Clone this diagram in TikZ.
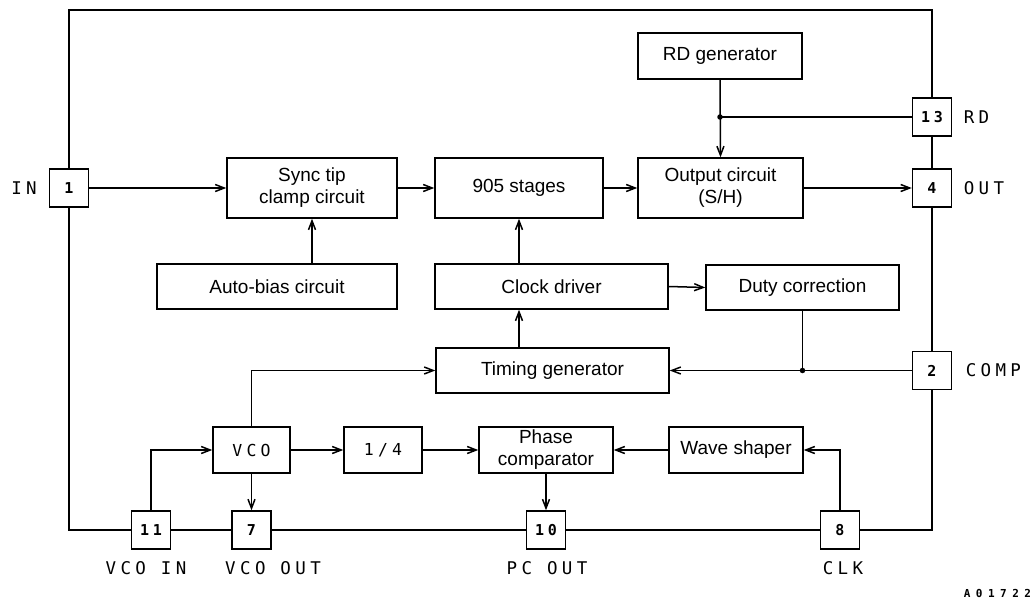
\documentclass[tikz,border=0pt]{standalone}
\usepackage{fontspec}
\usetikzlibrary{arrows.meta}
\newfontfamily\blkfont{Liberation Sans}
\newfontfamily\pinfont[LetterSpace=25]{DejaVu Sans Mono}
\newfontfamily\codefont[LetterSpace=50]{DejaVu Sans Mono}
\begin{document}
\begin{tikzpicture}[x=1pt,y=-1pt,line width=1.5pt,
  >={Straight Barb[length=9pt,width=7pt]},
  blk/.style={draw,inner sep=0pt,align=center,font=\blkfont\fontsize{19}{22}\selectfont},
  monoblk/.style={draw,inner sep=0pt,align=center,font=\pinfont\fontsize{16.5}{18}\selectfont},
  pin/.style={draw,minimum width=39pt,minimum height=38pt,inner sep=0pt,font=\pinfont\bfseries\fontsize{15}{18}\selectfont},
  lbl/.style={inner sep=0pt,font=\pinfont\fontsize{17.5}{20}\selectfont},
  jdot/.style={fill,circle,inner sep=0pt,minimum size=5.5pt}]
\useasboundingbox (0,0) rectangle (1035,602);
% blocks
\node[blk,minimum width=164pt,minimum height=46pt] (rdg) at (720,56) {RD generator};
\node[blk,minimum width=165pt,minimum height=60pt] (outc) at (720.5,188) {Output circuit\\(S/H)};
\node[blk,minimum width=168pt,minimum height=60pt] (stg) at (519,188) {905 stages};
\node[blk,minimum width=170pt,minimum height=60pt] (sync) at (312,188) {Sync tip\\clamp circuit};
\node[blk,minimum width=240pt,minimum height=45pt] (abias) at (277,286.5) {Auto-bias circuit};
\node[blk,minimum width=233pt,minimum height=45pt] (clkd) at (551.5,286.5) {Clock driver};
\node[blk,minimum width=193pt,minimum height=45pt] (duty) at (802.5,287.5) {Duty correction};
\node[blk,minimum width=233pt,minimum height=45pt] (timg) at (552.5,370.5) {Timing generator};
\node[monoblk,minimum width=77pt,minimum height=46pt] (vco) at (251.5,450) {VCO};
\node[monoblk,minimum width=78pt,minimum height=46pt] (quarter) at (383,450) {1/4};
\node[blk,minimum width=134pt,minimum height=46pt] (phc) at (546,450) {Phase\\comparator};
\node[blk,minimum width=134pt,minimum height=46pt] (wave) at (736,450) {Wave shaper};
% pins
\node[pin] (p1) at (69,188) {1};
\node[pin] (p13) at (932,117) {13};
\node[pin] (p4) at (932,188) {4};
\node[pin] (p2) at (932,370.5) {2};
\node[pin] (p8) at (840,530) {8};
\node[pin] (p10) at (546,530) {10};
\node[pin] (p11) at (151,530) {11};
\node[pin] (p7) at (251.5,530) {7};
% pin labels
\node[lbl] (lin) at (24,188) {IN};
\node[lbl,anchor=west] (lrd) at (963,117) {RD};
\node[lbl,anchor=west] (lout) at (963,188) {OUT};
\node[lbl,anchor=west] (lcomp) at (965,370.5) {COMP};
\node[lbl] (lvin) at (146,568) {VCO IN};
\node[lbl] (lvout) at (273,568) {VCO OUT};
\node[lbl] (lpc) at (547,568) {PC OUT};
\node[lbl] (lclk) at (843,568) {CLK};
\node[inner sep=0pt,anchor=west,font=\codefont\bfseries\fontsize{11}{12}\selectfont] (code) at (963,593) {A01722};
% frame
\coordinate (tl) at (69,10);
\coordinate (tr) at (932,10);
\draw (p1.north) -- (tl) -- (tr) -- (p13.north);
\draw (p13.south) -- (p4.north);
\draw (p4.south) -- (p2.north);
\draw (p2.south) |- (p8.east);
\draw (p8.west) -- (p10.east);
\draw (p10.west) -- (p7.east);
\draw (p7.west) -- (p11.east);
\draw (p11.west) -| (p1.south);
% signal path
\draw[->] (p1.east) -- (sync.west);
\draw[->] (sync.east) -- (stg.west);
\draw[->] (stg.east) -- (outc.west);
\draw[->] (outc.east) -- (p4.west);
\node[jdot] (rdj) at (rdg.south |- p13.west) {};
\draw[->] (rdg.south) -- (outc.north);
\draw (rdj.center) -- (p13.west);
\draw[->] (sync.south |- abias.north) -- (sync.south);
\draw[->] (stg.south |- clkd.north) -- (stg.south);
\draw[->] (clkd.east) -- (duty.west);
\draw[->] (stg.south |- timg.north) -- (stg.south |- clkd.south);
\node[jdot] (dj) at (duty.south |- timg.east) {};
\draw (duty.south) -- (dj.center);
\draw[->] (p2.west) -- (timg.east);
\draw[->] (vco.north) |- (timg.west);
\draw[->] (p11.north) |- (vco.west);
\draw[->] (vco.south) -- (p7.north);
\draw[->] (vco.east) -- (quarter.west);
\draw[->] (quarter.east) -- (phc.west);
\draw[->] (wave.west) -- (phc.east);
\draw[->] (p8.north) |- (wave.east);
\draw[->] (phc.south) -- (p10.north);
\end{tikzpicture}
\end{document}
